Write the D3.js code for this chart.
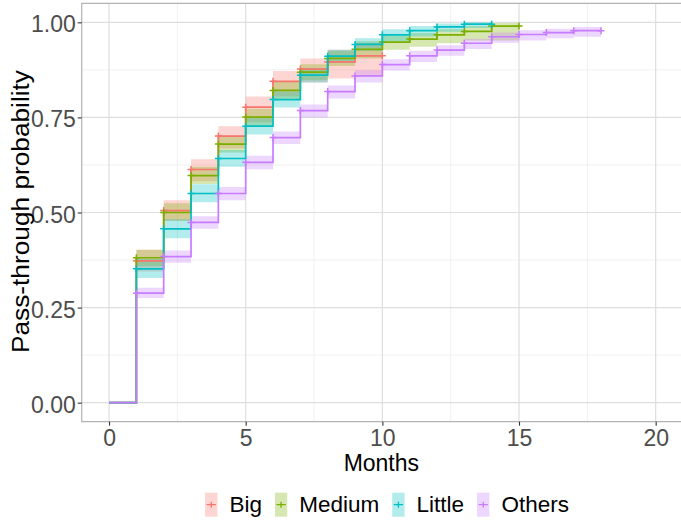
<!DOCTYPE html>
<html>
<head>
<meta charset="utf-8">
<script src="https://cdn.jsdelivr.net/npm/d3@7"></script>
<style>
    body { margin: 0; background: #fff; }
    svg { display: block; font-family: "Liberation Sans", Arial, sans-serif; }
</style>
</head>
<body>
<svg></svg>
<script>
(() => {
    const groups = ["Big", "Medium", "Little", "Others"];
    const colors = ["#F8766D", "#7CAE00", "#00BFC4", "#C77CFF"];
    const xTicks = [0, 5, 10, 15, 20];
    const yTicks = [0, 0.25, 0.5, 0.75, 1];

    // month index = position in the array (0, 1, 2, ...), last value = censored end
    const bigSurv = [0, 0.373, 0.505, 0.613, 0.701, 0.777, 0.845, 0.877, 0.896, 0.912, 0.912];
    const bigLower = [0, 0.345, 0.478, 0.582, 0.668, 0.737, 0.805, 0.842, 0.852, 0.862, 0.862];
    const bigUpper = [0, 0.402, 0.532, 0.640, 0.727, 0.805, 0.872, 0.905, 0.928, 0.946, 0.946];

    const mediumSurv = [0, 0.381, 0.500, 0.597, 0.680, 0.751, 0.821, 0.869, 0.905, 0.929, 0.948, 0.956, 0.967, 0.976, 0.990, 0.990];
    const mediumLower = [0, 0.358, 0.478, 0.575, 0.658, 0.728, 0.797, 0.848, 0.885, 0.905, 0.928, 0.936, 0.945, 0.952, 0.952, 0.952];
    const mediumUpper = [0, 0.402, 0.524, 0.620, 0.702, 0.773, 0.845, 0.890, 0.925, 0.950, 0.965, 0.972, 0.982, 0.990, 0.998, 0.998];

    const littleSurv = [0, 0.352, 0.457, 0.550, 0.642, 0.727, 0.797, 0.861, 0.911, 0.942, 0.967, 0.978, 0.988, 0.995, 0.995];
    const littleLower = [0, 0.328, 0.432, 0.527, 0.620, 0.705, 0.776, 0.842, 0.893, 0.925, 0.950, 0.963, 0.975, 0.985, 0.985];
    const littleUpper = [0, 0.378, 0.482, 0.574, 0.664, 0.748, 0.818, 0.880, 0.928, 0.958, 0.982, 0.990, 0.997, 1.0, 1.0];

    const othersSurv = [0, 0.288, 0.384, 0.474, 0.550, 0.632, 0.697, 0.768, 0.818, 0.859, 0.889, 0.912, 0.927, 0.945, 0.962, 0.968, 0.973, 0.978, 0.978];
    const othersLower = [0, 0.275, 0.368, 0.457, 0.532, 0.614, 0.680, 0.750, 0.800, 0.842, 0.873, 0.896, 0.912, 0.930, 0.946, 0.952, 0.958, 0.962, 0.962];
    const othersUpper = [0, 0.302, 0.400, 0.490, 0.567, 0.649, 0.713, 0.784, 0.834, 0.874, 0.903, 0.925, 0.940, 0.957, 0.973, 0.979, 0.983, 0.988, 0.988];

    const series = [
        { surv: bigSurv, lower: bigLower, upper: bigUpper },
        { surv: mediumSurv, lower: mediumLower, upper: mediumUpper },
        { surv: littleSurv, lower: littleLower, upper: littleUpper },
        { surv: othersSurv, lower: othersLower, upper: othersUpper }
    ];

    const width = 681;
    const height = 522;
    const panel = { left: 81.7, right: 683, top: 3.3, bottom: 421.7 };

    const xScale = d3.scaleLinear()
        .domain([-1, 21])
        .range([panel.left, panel.right]);

    const yScale = d3.scaleLinear()
        .domain([-0.05, 1.05])
        .range([panel.bottom, panel.top]);

    const svg = d3.select("svg")
        .attr("width", width)
        .attr("height", height);

    // grid
    const grid = svg.append("g");
    [2.5, 7.5, 12.5, 17.5].forEach(v => {
        grid.append("line")
            .attr("x1", xScale(v)).attr("x2", xScale(v))
            .attr("y1", panel.top).attr("y2", panel.bottom)
            .attr("stroke", "#ebebeb").attr("stroke-width", 0.7);
    });
    [0.125, 0.375, 0.625, 0.875].forEach(v => {
        grid.append("line")
            .attr("x1", panel.left).attr("x2", panel.right)
            .attr("y1", yScale(v)).attr("y2", yScale(v))
            .attr("stroke", "#ebebeb").attr("stroke-width", 0.7);
    });
    xTicks.forEach(v => {
        grid.append("line")
            .attr("x1", xScale(v)).attr("x2", xScale(v))
            .attr("y1", panel.top).attr("y2", panel.bottom)
            .attr("stroke", "#dedede").attr("stroke-width", 1.2);
    });
    yTicks.forEach(v => {
        grid.append("line")
            .attr("x1", panel.left).attr("x2", panel.right)
            .attr("y1", yScale(v)).attr("y2", yScale(v))
            .attr("stroke", "#dedede").attr("stroke-width", 1.2);
    });

    const toPoints = (arr) => arr.map((v, i) => ({ x: i, y: v }));

    const stepLine = d3.line()
        .x(d => xScale(d.x))
        .y(d => yScale(d.y))
        .curve(d3.curveStepAfter);

    const stepArea = d3.area()
        .x(d => xScale(d.x))
        .y0(d => yScale(d.lo))
        .y1(d => yScale(d.hi))
        .curve(d3.curveStepAfter);

    // confidence bands
    series.forEach(({ lower, upper }, index) => {
        const band = lower.map((lo, i) => ({ x: i, lo, hi: upper[i] })).slice(1);
        svg.append("path")
            .datum(band)
            .attr("fill", colors[index])
            .attr("fill-opacity", 0.3)
            .attr("d", stepArea);
    });

    // step curves and censor marks
    series.forEach(({ surv }, index) => {
        const pts = toPoints(surv);
        svg.append("path")
            .datum(pts)
            .attr("fill", "none")
            .attr("stroke", colors[index])
            .attr("stroke-width", 1.7)
            .attr("d", stepLine);

        svg.append("g")
            .selectAll("path")
            .data(pts.slice(1))
            .enter()
            .append("path")
            .attr("stroke", colors[index])
            .attr("stroke-width", 1.5)
            .attr("d", d => {
                const cx = xScale(d.x), cy = yScale(d.y);
                return `M${cx - 3.5},${cy}h7M${cx},${cy - 3.5}v7`;
            });
    });

    // panel border
    svg.append("path")
        .attr("fill", "none")
        .attr("stroke", "#b3b3b3")
        .attr("stroke-width", 1.2)
        .attr("d", `M${panel.right},${panel.top}H${panel.left}V${panel.bottom}H${panel.right}`);

    // axes
    const xAxis = svg.append("g")
        .attr("transform", `translate(0, ${panel.bottom})`)
        .call(d3.axisBottom(xScale).tickValues(xTicks).tickSize(4).tickPadding(4));

    const yAxis = svg.append("g")
        .attr("transform", `translate(${panel.left}, 0)`)
        .call(d3.axisLeft(yScale).tickValues(yTicks).tickSize(4).tickPadding(2)
            .tickFormat(d3.format(".2f")));

    [xAxis, yAxis].forEach(ax => {
        ax.select(".domain").remove();
        ax.selectAll(".tick line").attr("stroke", "#333").attr("stroke-width", 1.1);
        ax.selectAll(".tick text")
            .attr("fill", "#4d4d4d")
            .style("font-size", "23px")
            .style("font-family", "'Liberation Sans', Arial, sans-serif");
    });

    // slightly taller tick digits, as in the reference
    xAxis.selectAll(".tick text")
        .attr("y", null).attr("dy", null)
        .attr("transform", "translate(0, 24) scale(1, 1.08)");
    yAxis.selectAll(".tick text")
        .attr("x", null).attr("dy", null)
        .attr("transform", "translate(-6, 9.5) scale(1, 1.08)");

    // axis titles
    svg.append("text")
        .attr("x", (panel.left + width) / 2)
        .attr("y", 471)
        .attr("text-anchor", "middle")
        .style("font-size", "23px")
        .text("Months");

    svg.append("text")
        .attr("transform", `translate(28.5, 211.5) rotate(-90)`)
        .attr("x", -141.5)
        .attr("textLength", 283)
        .attr("lengthAdjust", "spacingAndGlyphs")
        .style("font-size", "23px")
        .text("Pass-through probability");

    // legend
    const legend = svg.append("g");
    const keyW = 12.3, keyH = 24, keyGap = 12, itemGap = 13;
    let cursor = 0;
    groups.forEach((name, index) => {
        const item = legend.append("g").attr("transform", `translate(${cursor}, 0)`);
        item.append("rect")
            .attr("x", 0).attr("y", -keyH / 2)
            .attr("width", keyW).attr("height", keyH)
            .attr("fill", colors[index]).attr("fill-opacity", 0.3);
        item.append("path")
            .attr("stroke", colors[index])
            .attr("stroke-width", 1.3)
            .attr("d", `M1.5,0H${keyW - 1.5}M${keyW / 2},-3v6`);
        const label = item.append("text")
            .attr("x", keyW + keyGap)
            .attr("y", 7.5)
            .style("font-size", "22.5px")
            .text(name);
        cursor += keyW + keyGap + label.node().getComputedTextLength() + itemGap;
    });
    const total = cursor - itemGap;
    legend.attr("transform", `translate(${387 - total / 2}, 504.7)`);
})();
</script>
</body>
</html>
